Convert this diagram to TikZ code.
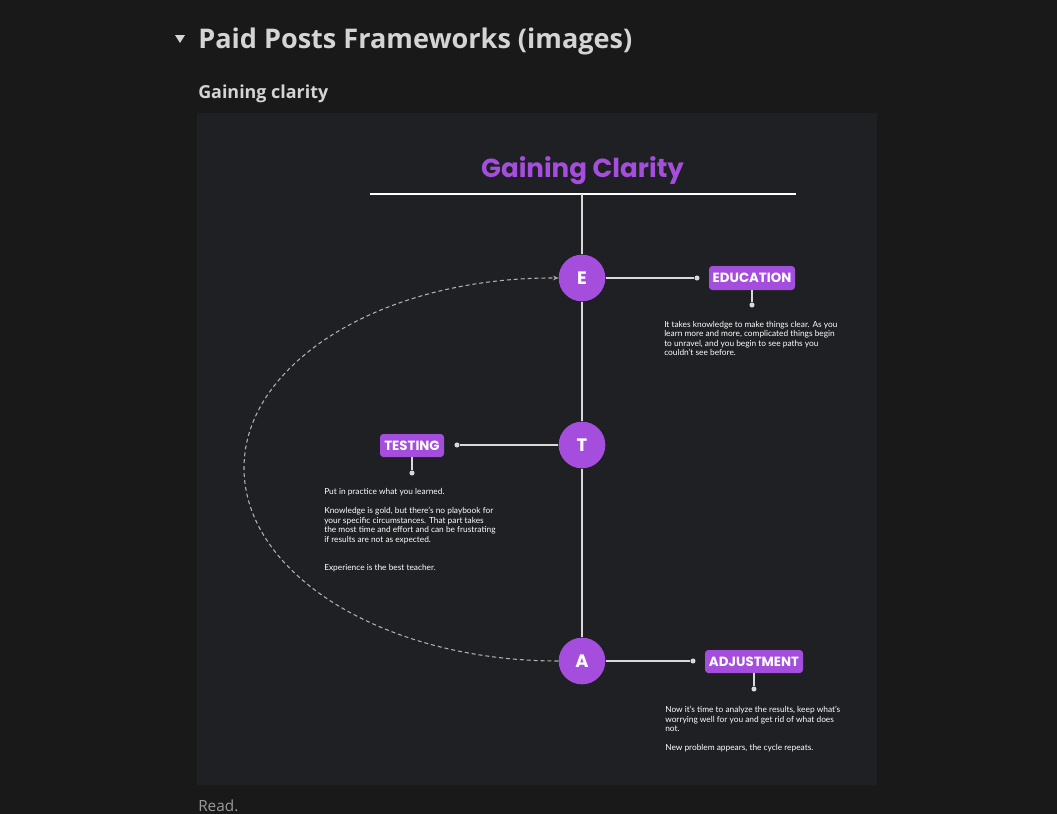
\documentclass[tikz,border=0pt]{standalone}
\usepackage{fontspec}
\setmainfont{Lato}
\newfontfamily\popfont{Poppins}
\newfontfamily\uifont{Open Sans}
\usetikzlibrary{arrows.meta}
\definecolor{pagebg}{HTML}{191919}
\definecolor{panelbg}{HTML}{1F2023}
\definecolor{purp}{HTML}{A54EDD}
\definecolor{linec}{HTML}{D9D9D9}
\definecolor{headc}{HTML}{D4D4D4}
\definecolor{dashc}{HTML}{B0B0B0}
\definecolor{readc}{HTML}{9B9B9B}
\begin{document}
\begin{tikzpicture}[x=0.75pt,y=-0.75pt,
 letter/.style={circle,fill=purp,minimum size=35pt,inner sep=0pt,text=white,font=\popfont\bfseries\fontsize{13.5}{13.5}\selectfont},
 tag/.style={rounded corners=2.5pt,fill=purp,text=white,inner sep=0pt,font=\popfont\bfseries\fontsize{10}{10}\selectfont},
 dot/.style={circle,fill=linec,minimum size=3.8pt,inner sep=0pt},
 conn/.style={draw=linec,line width=1.1pt},
 body/.style={anchor=north west,inner sep=0pt,align=left,text=white,font=\fontsize{6.25}{7.125}\selectfont},
 cyclearrow/.style={draw=dashc,line width=0.8pt,dash pattern=on 3pt off 2.2pt,-{Stealth[length=4pt,width=3.5pt]}},
]
% backgrounds
\fill[pagebg] (0,0) rectangle (1057,814);
\useasboundingbox (0,0) rectangle (1057,814);
\fill[panelbg] (197,113) rectangle (877,785);

% page header
\fill[headc] (175,35) -- (185,35) -- (180,43) -- cycle;
\node[anchor=west,inner sep=0pt,text=headc,font=\uifont\bfseries] (head) at (198,41) {\resizebox{325.5pt}{!}{Paid Posts Frameworks (images)}};
\node[anchor=west,inner sep=0pt,text=headc,font=\uifont\bfseries] (sub) at (198,94) {\resizebox{97.5pt}{!}{Gaining clarity}};
\node[anchor=west,inner sep=0pt,text=readc,font=\uifont\fontsize{11.5}{12}\selectfont] (read) at (198,806) {Read.};

% diagram title
\node[inner sep=0pt,text=purp,font=\popfont\bfseries] (title) at (582.5,170.5) {\resizebox{152pt}{!}{Gaining Clarity}};
\coordinate (tl) at (370,194);
\coordinate (tr) at (796,194);
\coordinate (tm) at (582,194);
\draw[conn,line width=0.8pt,draw=white] (tl) -- (tr);

% letters
\node[letter] (E) at (582,278) {E};
\node[letter] (T) at (582,445) {T};
\node[letter] (A) at (582,661) {A};

\draw[conn] (tm) -- (E.north);
\draw[conn] (E.south) -- (T.north);
\draw[conn] (T.south) -- (A.north);

% tags
\node[tag,minimum width=64.5pt,minimum height=18pt] (lE) at (752,278) {EDUCATION};
\node[tag,minimum width=48pt,minimum height=17.25pt] (lT) at (412,445.5) {TESTING};
\node[tag,minimum width=73.5pt,minimum height=17.25pt] (lA) at (754,661.5) {ADJUSTMENT};

\node[dot] (dE) at (697,278) {};
\node[dot] (dT) at (457,445) {};
\node[dot] (dA) at (693,661) {};
\node[dot] (bE) at (752,305) {};
\node[dot] (bT) at (412,473) {};
\node[dot] (bA) at (754,689) {};

\draw[conn] (E.east) -- (dE);
\draw[conn] (T.west) -- (dT);
\draw[conn] (A.east) -- (dA);
\draw[conn] (lE.south) -- (bE);
\draw[conn] (lT.south) -- (bT);
\draw[conn] (lA.south) -- (bA);

% texts
\node[body] (tE) at (664,321) {It takes knowledge to make things clear. As you\\learn more and more, complicated things begin\\to unravel, and you begin to see paths you\\couldn't see before.};
\node[body] (tT) at (324,488.5) {Put in practice what you learned.\\[7.125pt]Knowledge is gold, but there's no playbook for\\your specific circumstances. That part takes\\the most time and effort and can be frustrating\\if results are not as expected.\\[14.25pt]Experience is the best teacher.};
\node[body] (tA) at (665,706) {Now it's time to analyze the results, keep what's\\worrying well for you and get rid of what does\\not.\\[7.125pt]New problem appears, the cycle repeats.};

% cycle
\coordinate (cl) at (244,468);
\draw[cyclearrow] (A.west) .. controls (384,661) and (244,574) .. (cl) .. controls (244,362) and (384,277) .. (E.west);
\end{tikzpicture}
\end{document}
